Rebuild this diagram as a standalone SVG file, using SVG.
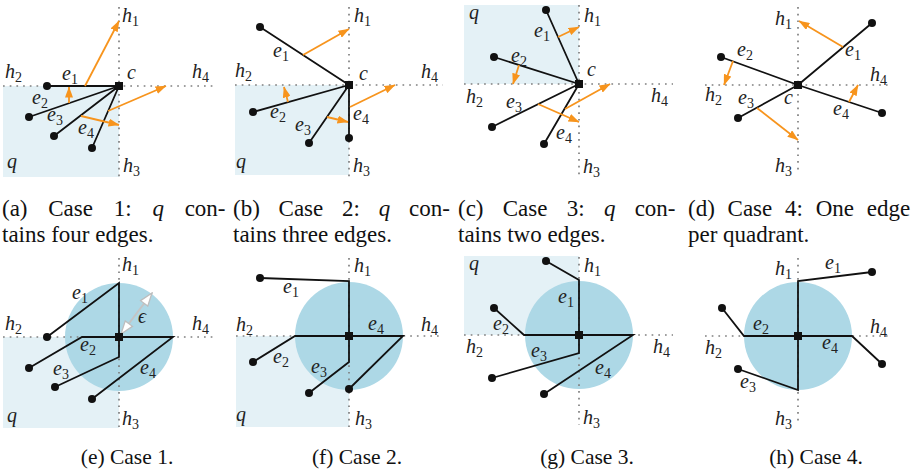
<svg xmlns="http://www.w3.org/2000/svg" width="915" height="474" viewBox="0 0 915 474">
<style>
.q{fill:#e4f1f6}
.disk{fill:#add8e6}
.dot{fill:none;stroke:#808080;stroke-width:1.7;stroke-dasharray:1.7 5}
.ed{fill:none;stroke:#111;stroke-width:1.8;stroke-linejoin:miter}
.ar{fill:none;stroke:#f7941d;stroke-width:1.8;marker-end:url(#oa)}
.pt{fill:#111}
.m{font-family:"Liberation Serif","DejaVu Serif",serif;font-style:italic;font-size:20px;fill:#222}
.s{font-style:normal;font-size:14px}
.cap{font-family:"Liberation Serif","DejaVu Serif",serif;font-size:23px;fill:#111}
.bc{text-anchor:middle;font-size:21.5px}
.it{font-style:italic}
</style>
<defs>
<marker id="oa" viewBox="0 0 11 8" refX="10.5" refY="4" markerWidth="11" markerHeight="8" markerUnits="userSpaceOnUse" orient="auto"><path d="M0,0 L11,4 L0,8 z" fill="#f7941d"/></marker>
<marker id="wa" viewBox="0 0 15 11" refX="14" refY="5.5" markerWidth="15" markerHeight="11" markerUnits="userSpaceOnUse" orient="auto-start-reverse"><path d="M1,1 L14,5.5 L1,10 z" fill="#fff" stroke="#bdbdbd" stroke-width="1.3"/></marker>
<rect id="sq" x="-4" y="-4" width="8" height="8" fill="#111"/>
</defs>

<!-- (a) -->
<g id="panel-a">
<rect class="q" x="3" y="86" width="116" height="91"/>
<path class="dot" d="M119,7V177M3,86H213"/>
<g id="a-connectors">
<path class="ed" d="M119,86L47,86M119,86L29,117M119,86L54,136M119,86L92,148"/>
<path class="ar" d="M85,86L119,21"/>
<path class="ar" d="M69,103L69,87"/>
<path class="ar" d="M108,111L166,86"/>
<path class="ar" d="M81,116L119,125"/>
</g>
<g id="a-nodes"><circle class="pt" cx="47" cy="86" r="4"/><circle class="pt" cx="29" cy="117" r="4"/><circle class="pt" cx="54" cy="136" r="4"/><circle class="pt" cx="92" cy="148" r="4"/><use href="#sq" x="119" y="86"/></g>
<text class="m" x="122" y="22">h<tspan class="s" dy="4">1</tspan></text>
<text class="m" x="5" y="78">h<tspan class="s" dy="4">2</tspan></text>
<text class="m" x="127" y="79">c</text>
<text class="m" x="192" y="78">h<tspan class="s" dy="4">4</tspan></text>
<text class="m" x="123" y="172">h<tspan class="s" dy="4">3</tspan></text>
<text class="m" x="7" y="168">q</text>
<text class="m" x="62" y="80">e<tspan class="s" dy="4">1</tspan></text>
<text class="m" x="32" y="104">e<tspan class="s" dy="4">2</tspan></text>
<text class="m" x="47" y="121">e<tspan class="s" dy="4">3</tspan></text>
<text class="m" x="78" y="134">e<tspan class="s" dy="4">4</tspan></text>
</g>

<!-- (b) -->
<g id="panel-b">
<rect class="q" x="235" y="85" width="114" height="90"/>
<path class="dot" d="M349,7V177M235,85H443"/>
<g id="b-connectors">
<path class="ed" d="M349,85L260,27M349,85L253,112M349,85L309,143M349,85L349,138"/>
<path class="ar" d="M303,55L349,29"/>
<path class="ar" d="M288,102L284,87"/>
<path class="ar" d="M327,117L348,122"/>
<path class="ar" d="M350,107L395,85"/>
</g>
<g id="b-nodes"><circle class="pt" cx="260" cy="27" r="4"/><circle class="pt" cx="253" cy="112" r="4"/><circle class="pt" cx="309" cy="143" r="4"/><circle class="pt" cx="349" cy="138" r="4"/><use href="#sq" x="349" y="85"/></g>
<text class="m" x="354" y="22">h<tspan class="s" dy="4">1</tspan></text>
<text class="m" x="273" y="57">e<tspan class="s" dy="4">1</tspan></text>
<text class="m" x="235" y="77">h<tspan class="s" dy="4">2</tspan></text>
<text class="m" x="359" y="80">c</text>
<text class="m" x="421" y="78">h<tspan class="s" dy="4">4</tspan></text>
<text class="m" x="270" y="118">e<tspan class="s" dy="4">2</tspan></text>
<text class="m" x="295" y="131">e<tspan class="s" dy="4">3</tspan></text>
<text class="m" x="353" y="120">e<tspan class="s" dy="4">4</tspan></text>
<text class="m" x="236" y="168">q</text>
<text class="m" x="353" y="172">h<tspan class="s" dy="4">3</tspan></text>
</g>

<!-- (c) -->
<g id="panel-c">
<rect class="q" x="464" y="5" width="115" height="79"/>
<path class="dot" d="M579,5V175M464,84H673"/>
<g id="c-connectors">
<path class="ed" d="M579,84L546,10M579,84L494,57M579,84L492,127M579,84L544,144"/>
<path class="ar" d="M558,37L579,27"/>
<path class="ar" d="M519,65L513,84"/>
<path class="ar" d="M538,104L579,122"/>
<path class="ar" d="M565,109L610,84"/>
</g>
<g id="c-nodes"><circle class="pt" cx="546" cy="10" r="4"/><circle class="pt" cx="494" cy="57" r="4"/><circle class="pt" cx="492" cy="127" r="4"/><circle class="pt" cx="544" cy="144" r="4"/><use href="#sq" x="579" y="84"/></g>
<text class="m" x="469" y="19">q</text>
<text class="m" x="584" y="22">h<tspan class="s" dy="4">1</tspan></text>
<text class="m" x="534" y="37">e<tspan class="s" dy="4">1</tspan></text>
<text class="m" x="511" y="62">e<tspan class="s" dy="4">2</tspan></text>
<text class="m" x="587" y="76">c</text>
<text class="m" x="466" y="103">h<tspan class="s" dy="4">2</tspan></text>
<text class="m" x="506" y="108">e<tspan class="s" dy="4">3</tspan></text>
<text class="m" x="651" y="102">h<tspan class="s" dy="4">4</tspan></text>
<text class="m" x="556" y="139">e<tspan class="s" dy="4">4</tspan></text>
<text class="m" x="583" y="173">h<tspan class="s" dy="4">3</tspan></text>
</g>

<!-- (d) -->
<g id="panel-d">
<path class="dot" d="M798,7V172M705,85H892"/>
<g id="d-connectors">
<path class="ed" d="M798,85L872,23M798,85L738,118M798,85L721,57M798,85L882,113"/>
<path class="ar" d="M843,47L799,21"/>
<path class="ar" d="M733,61L724,85"/>
<path class="ar" d="M757,108L798,140"/>
<path class="ar" d="M849,102L858,85"/>
</g>
<g id="d-nodes"><circle class="pt" cx="872" cy="23" r="4"/><circle class="pt" cx="738" cy="118" r="4"/><circle class="pt" cx="721" cy="57" r="4"/><circle class="pt" cx="882" cy="113" r="4"/><use href="#sq" x="798" y="85"/></g>
<text class="m" x="775" y="25">h<tspan class="s" dy="4">1</tspan></text>
<text class="m" x="845" y="56">e<tspan class="s" dy="4">1</tspan></text>
<text class="m" x="737" y="56">e<tspan class="s" dy="4">2</tspan></text>
<text class="m" x="870" y="81">h<tspan class="s" dy="4">4</tspan></text>
<text class="m" x="705" y="101">h<tspan class="s" dy="4">2</tspan></text>
<text class="m" x="738" y="104">e<tspan class="s" dy="4">3</tspan></text>
<text class="m" x="784" y="104">c</text>
<text class="m" x="833" y="115">e<tspan class="s" dy="4">4</tspan></text>
<text class="m" x="775" y="172">h<tspan class="s" dy="4">3</tspan></text>
</g>

<!-- (e) -->
<g id="panel-e">
<rect class="q" x="3" y="337" width="116" height="91"/>
<circle class="disk" cx="119" cy="337" r="54"/>
<path class="dot" d="M119,258V427M3,337H213"/>
<g id="e-connectors">
<path class="ed" d="M47,337L119,283L119,337"/>
<path class="ed" d="M29,368L82,337L119,337"/>
<path class="ed" d="M55,387L119,357L119,337"/>
<path class="ed" d="M92,399L173,337L119,337"/>
<path d="M121,334L152,293" fill="none" stroke="#c4c4c4" stroke-width="2" marker-start="url(#wa)" marker-end="url(#wa)"/>
</g>
<g id="e-nodes"><circle class="pt" cx="47" cy="337" r="4"/><circle class="pt" cx="29" cy="368" r="4"/><circle class="pt" cx="55" cy="387" r="4"/><circle class="pt" cx="92" cy="399" r="4"/><use href="#sq" x="119" y="337"/></g>
<text class="m" x="122" y="271">h<tspan class="s" dy="4">1</tspan></text>
<text class="m" x="72" y="299">e<tspan class="s" dy="4">1</tspan></text>
<text class="m" x="5" y="330">h<tspan class="s" dy="4">2</tspan></text>
<text class="m" x="192" y="330">h<tspan class="s" dy="4">4</tspan></text>
<text class="m" x="80" y="351">e<tspan class="s" dy="4">2</tspan></text>
<text class="m" x="53" y="375">e<tspan class="s" dy="4">3</tspan></text>
<text class="m" x="140" y="374">e<tspan class="s" dy="4">4</tspan></text>
<text class="m" x="7" y="422">q</text>
<text class="m" x="122" y="425">h<tspan class="s" dy="4">3</tspan></text>
<text class="m" x="138" y="323">ϵ</text>
</g>

<!-- (f) -->
<g id="panel-f">
<rect class="q" x="236" y="336" width="113" height="91"/>
<circle class="disk" cx="349" cy="336" r="54"/>
<path class="dot" d="M349,258V427M236,336H443"/>
<g id="f-connectors">
<path class="ed" d="M260,278L349,281L349,336"/>
<path class="ed" d="M253,362L295,336L349,336"/>
<path class="ed" d="M309,393L349,362L349,336"/>
<path class="ed" d="M349,389L403,336L349,336"/>
</g>
<g id="f-nodes"><circle class="pt" cx="260" cy="278" r="4"/><circle class="pt" cx="253" cy="362" r="4"/><circle class="pt" cx="309" cy="393" r="4"/><circle class="pt" cx="349" cy="389" r="4"/><use href="#sq" x="349" y="336"/></g>
<text class="m" x="354" y="272">h<tspan class="s" dy="4">1</tspan></text>
<text class="m" x="283" y="293">e<tspan class="s" dy="4">1</tspan></text>
<text class="m" x="236" y="331">h<tspan class="s" dy="4">2</tspan></text>
<text class="m" x="368" y="330">e<tspan class="s" dy="4">4</tspan></text>
<text class="m" x="421" y="331">h<tspan class="s" dy="4">4</tspan></text>
<text class="m" x="273" y="363">e<tspan class="s" dy="4">2</tspan></text>
<text class="m" x="311" y="373">e<tspan class="s" dy="4">3</tspan></text>
<text class="m" x="236" y="421">q</text>
<text class="m" x="355" y="425">h<tspan class="s" dy="4">3</tspan></text>
</g>

<!-- (g) -->
<g id="panel-g">
<rect class="q" x="464" y="256" width="115" height="79"/>
<circle class="disk" cx="579" cy="335" r="54"/>
<path class="dot" d="M579,257V425M464,335H673"/>
<g id="g-connectors">
<path class="ed" d="M546,261L579,280L579,335"/>
<path class="ed" d="M494,308L524,335L579,335"/>
<path class="ed" d="M492,378L579,353L579,335"/>
<path class="ed" d="M544,394L633,335L579,335"/>
</g>
<g id="g-nodes"><circle class="pt" cx="546" cy="261" r="4"/><circle class="pt" cx="494" cy="308" r="4"/><circle class="pt" cx="492" cy="378" r="4"/><circle class="pt" cx="544" cy="394" r="4"/><use href="#sq" x="579" y="335"/></g>
<text class="m" x="469" y="270">q</text>
<text class="m" x="584" y="272">h<tspan class="s" dy="4">1</tspan></text>
<text class="m" x="558" y="303">e<tspan class="s" dy="4">1</tspan></text>
<text class="m" x="493" y="330">e<tspan class="s" dy="4">2</tspan></text>
<text class="m" x="466" y="353">h<tspan class="s" dy="4">2</tspan></text>
<text class="m" x="531" y="357">e<tspan class="s" dy="4">3</tspan></text>
<text class="m" x="653" y="353">h<tspan class="s" dy="4">4</tspan></text>
<text class="m" x="595" y="374">e<tspan class="s" dy="4">4</tspan></text>
<text class="m" x="583" y="424">h<tspan class="s" dy="4">3</tspan></text>
</g>

<!-- (h) -->
<g id="panel-h">
<circle class="disk" cx="798" cy="336" r="54"/>
<path class="dot" d="M798,258V425M705,336H892"/>
<g id="h-connectors">
<path class="ed" d="M872,272L798,281L798,336"/>
<path class="ed" d="M722,308L744,336L798,336"/>
<path class="ed" d="M738,369L798,390L798,336"/>
<path class="ed" d="M882,364L852,336L798,336"/>
</g>
<g id="h-nodes"><circle class="pt" cx="872" cy="272" r="4"/><circle class="pt" cx="722" cy="308" r="4"/><circle class="pt" cx="738" cy="369" r="4"/><circle class="pt" cx="882" cy="364" r="4"/><use href="#sq" x="798" y="336"/></g>
<text class="m" x="775" y="275">h<tspan class="s" dy="4">1</tspan></text>
<text class="m" x="825" y="269">e<tspan class="s" dy="4">1</tspan></text>
<text class="m" x="753" y="330">e<tspan class="s" dy="4">2</tspan></text>
<text class="m" x="870" y="333">h<tspan class="s" dy="4">4</tspan></text>
<text class="m" x="822" y="349">e<tspan class="s" dy="4">4</tspan></text>
<text class="m" x="705" y="354">h<tspan class="s" dy="4">2</tspan></text>
<text class="m" x="740" y="388">e<tspan class="s" dy="4">3</tspan></text>
<text class="m" x="775" y="425">h<tspan class="s" dy="4">3</tspan></text>
</g>

<!-- captions -->
<g id="captions">
<text class="cap" x="2" y="216" word-spacing="15">(a) Case 1: <tspan class="it">q</tspan> con-</text>
<text class="cap" x="2" y="242">tains four edges.</text>
<text class="cap" x="233" y="216" word-spacing="13">(b) Case 2: <tspan class="it">q</tspan> con-</text>
<text class="cap" x="233" y="242">tains three edges.</text>
<text class="cap" x="458" y="216" word-spacing="13.5">(c) Case 3: <tspan class="it">q</tspan> con-</text>
<text class="cap" x="458" y="242">tains two edges.</text>
<text class="cap" x="688" y="216" word-spacing="7">(d) Case 4: One edge</text>
<text class="cap" x="688" y="242">per quadrant.</text>
<text class="cap bc" x="127" y="464">(e) Case 1.</text>
<text class="cap bc" x="357" y="464">(f) Case 2.</text>
<text class="cap bc" x="587" y="464">(g) Case 3.</text>
<text class="cap bc" x="816" y="464">(h) Case 4.</text>
</g>
</svg>
